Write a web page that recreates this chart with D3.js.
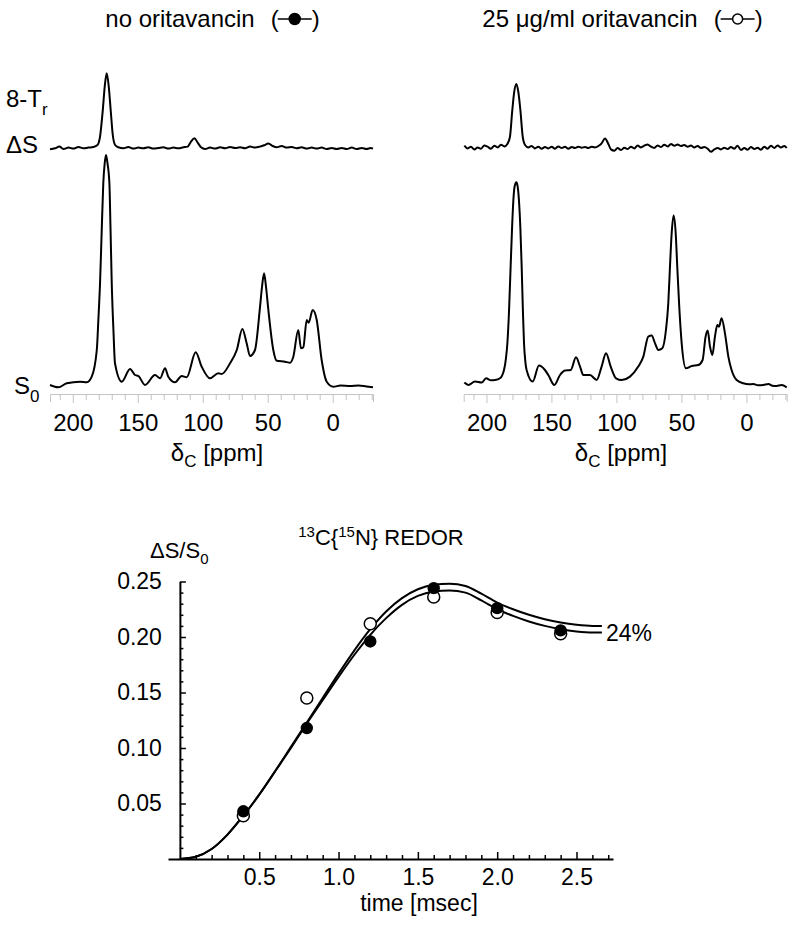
<!DOCTYPE html>
<html><head><meta charset="utf-8">
<script src="https://cdn.jsdelivr.net/npm/d3@7"></script>
<style>
body{margin:0;background:#fff}
svg text{font-family:"Liberation Sans",Arial,Helvetica,sans-serif;fill:#000}
</style>
</head><body>
<svg id="c" width="800" height="927"></svg>
<script>
// ---------------- DATA ----------------
const ppmTickLabels = [200, 150, 100, 50, 0];
const panelTitles = ["no oritavancin", "25 \u03BCg/ml oritavancin"];

// S0 spectrum, no oritavancin: [ppm, intensity]
const s0NoOri = [[217.5,0],[211.1,-2.3],[204.6,1.7],[194.4,3.3],[189.2,2.7],[185.4,8.3],[181.5,35],[180.3,65],[179.0,101.7],[177.7,155],[176.5,201.7],[175.4,222],[174.4,230],[173.3,222],[171.8,201.7],[171.0,160],[170.0,101.7],[168.7,55],[167.5,21.7],[162.3,3.3],[155.9,16],[152.1,10],[149.5,9],[144.4,0],[136.7,10],[132.8,6.7],[129.0,16.7],[126.5,8.3],[121.3,2.7],[116.2,9],[112.3,7.7],[105.4,32.7],[100.8,18.3],[94.4,6.7],[88.0,11.7],[85.4,11],[79.0,21.7],[73.8,35],[69.5,56],[66.2,41.7],[63.6,29],[59.8,35],[55.9,78.3],[54.4,98],[52.8,111.7],[51.3,98],[49.5,75],[45.7,35],[43.1,24.3],[36.7,23.3],[32.8,22.3],[30.3,28.3],[26.5,55],[24.4,36.7],[22.6,37.7],[20.0,65],[18.5,62.3],[15.4,75],[12.3,65],[8.5,25],[4.6,3.3],[-0.5,-1.7],[-6,-0.6],[-13.3,-1],[-20,-0.4],[-26,-1.5],[-31,-2.3]];

// 8-Tr Delta S spectrum, no oritavancin
const dsNoOri = [[217.5,-1],[213.6,0],[210.3,1.7],[207.2,-0.7],[203.3,0.7],[199.5,-0.3],[195.7,1.3],[191.8,0],[188.0,0.7],[184.1,1.3],[181.0,3.3],[179.0,11.7],[176.9,38],[175.4,61.7],[173.9,75],[172.3,61.7],[170.8,38],[169.2,13.3],[167.4,3.3],[164.9,1],[161.0,0],[157.2,1.3],[153.3,-0.3],[149.5,0.7],[145.7,0],[141.8,1],[138.0,-0.3],[134.1,0.3],[130.3,1],[126.4,-0.3],[122.6,0.7],[118.7,0],[114.9,1],[111.6,1.7],[109.0,6.7],[106.4,10],[103.9,5.7],[101.3,1],[98.2,-0.7],[94.4,0.7],[90.5,-0.3],[86.7,1],[82.8,0],[79.0,1.3],[75.1,0.3],[71.3,1],[67.4,0],[63.6,1.7],[59.7,0.7],[55.9,1.7],[52.8,3],[49.5,4.7],[46.2,2.3],[43.1,1],[39.2,2.3],[35.4,0.7],[31.5,1.3],[27.7,0],[23.9,1],[20.0,-0.3],[16.2,0.7],[12.3,-0.3],[8.5,0.7],[4.6,-0.7],[0.8,0.3],[-3.1,-0.7],[-6.9,0.3],[-10.8,-0.7],[-14.6,0.7],[-18.5,-0.7],[-22.3,0.3],[-26.1,-0.7],[-29.2,0.3],[-31,-0.3]];

// S0 spectrum, 25 ug/ml oritavancin
const s0Ori = [[217.0,0.7],[213.9,-1.7],[208.8,1.7],[203.7,0.7],[200.3,5],[196.5,3],[193.4,3.3],[189.6,5],[186.5,13.3],[185.0,25],[183.9,40],[182.7,70],[181.4,116.7],[180.3,155],[179.3,183],[178.3,197],[177.0,201],[176.0,197],[175.0,183],[173.9,155],[172.9,116.7],[171.9,70],[171.1,40],[170.1,22],[169.1,13.3],[164.4,1.7],[159.6,17.7],[155.0,13.3],[152.4,8.3],[147.8,-1.7],[143.4,8.3],[139.6,12.7],[135.2,13.3],[131.1,26],[128.0,16.7],[125.5,8.3],[120.3,8.3],[115.2,3.3],[111.4,16.7],[108.0,30],[104.4,16.7],[100.3,5],[96.0,3.3],[89.6,6.7],[83.2,16.7],[79.3,26.7],[75.5,46.7],[72.9,47.7],[70.3,40],[67.8,33.3],[64.7,35],[61.9,53.3],[60.1,80],[58.8,116.7],[57.5,150],[56.0,167.7],[54.4,150],[53.2,116.7],[51.6,75],[49.8,40],[46.5,15],[42.1,17.3],[37.0,18.3],[33.7,23.3],[31.4,46.7],[29.8,52.7],[28.0,36.7],[26.2,28.3],[24.2,46.7],[22.4,58.3],[21.1,56.7],[19.1,65],[16.5,50],[13.9,26.7],[11.4,13.3],[7.5,3.3],[2.4,0],[-2,-1],[-5.3,-0.7],[-9,-2],[-13.0,-1.7],[-17,-0.8],[-20,-2.5],[-23.2,-2.7],[-27,-1.8],[-31,-4]];

// 8-Tr Delta S spectrum, 25 ug/ml oritavancin
const dsOri = [[217.0,1],[214.5,-1.7],[211.9,0],[209.3,-2.7],[206.8,-0.7],[204.2,-2],[201.6,1.3],[199.1,0],[196.5,-2],[193.9,1],[191.4,-0.7],[188.8,2],[186.2,0.3],[183.9,2.7],[181.9,10],[180.1,36.7],[178.6,55],[177.0,62.7],[175.5,55],[173.9,36.7],[172.1,10],[170.3,1.7],[167.8,-0.7],[165.2,0.7],[162.7,-1.7],[160.1,0],[157.5,-2],[155.0,-0.3],[152.4,-1.7],[149.8,0],[147.3,-2],[144.7,0.3],[142.1,-1.3],[139.6,0],[137.0,-2],[134.4,-0.3],[131.9,-1.3],[129.3,0],[126.8,-1],[124.2,-0.3],[121.6,-1.3],[119.1,0],[116.5,-0.7],[113.9,0.7],[111.4,3.3],[108.8,8.3],[106.2,2.7],[104.2,-2.7],[101.6,-4],[99.1,-1.3],[96.5,-3.3],[93.9,-1],[91.4,-2.3],[88.8,0],[86.2,-1.7],[83.7,1.3],[81.1,-0.7],[78.5,1],[76.0,2.3],[73.4,0],[70.9,-1.3],[68.3,1.3],[65.7,-0.3],[63.2,2],[60.6,0.3],[58.0,2.7],[55.5,1],[52.9,2.3],[50.3,0.7],[47.8,1.7],[45.2,0],[42.7,1.3],[40.1,-0.7],[37.5,0.7],[35.0,-1.3],[32.4,-0.3],[29.8,-2],[27.3,-5],[24.7,-2.7],[22.1,-1.3],[19.6,-2.7],[17.0,-1],[14.4,-2.3],[11.9,-0.3],[9.3,-2],[6.8,1],[4.2,-3.3],[1.6,-1.3],[-0.9,-3],[-3.5,-0.3],[-6.1,-2.3],[-8.6,-1],[-11.2,-3],[-13.8,0],[-16.3,-2],[-18.9,1],[-21.5,-1.3],[-24.0,1.3],[-26.6,-0.7],[-29.2,0.7],[-31,-1.3]];

// REDOR data
const timeTickLabels = [0.5, 1.0, 1.5, 2.0, 2.5];
const ratioTickLabels = [0.05, 0.10, 0.15, 0.20, 0.25];
const redorTimes = [0.4, 0.8, 1.2, 1.6, 2.0, 2.4];
const redorNoOri = [0.043, 0.118, 0.196, 0.244, 0.226, 0.206];
const redorOri = [0.039, 0.145, 0.212, 0.236, 0.222, 0.203];
const fitTimes = [0, 0.1, 0.2, 0.3, 0.4, 0.5, 0.6, 0.7, 0.8, 0.9, 1.0, 1.1, 1.2, 1.3, 1.4, 1.5, 1.6, 1.7, 1.8, 1.9, 2.0, 2.1, 2.2, 2.3, 2.4, 2.5, 2.6, 2.66];
const fitUpper = [0, 0.002, 0.009, 0.022, 0.039, 0.058, 0.079, 0.101, 0.123, 0.145, 0.167, 0.188, 0.207, 0.223, 0.235, 0.243, 0.247, 0.248, 0.246, 0.239, 0.231, 0.225, 0.220, 0.216, 0.213, 0.211, 0.210, 0.210];
const fitLower = [0, 0.002, 0.009, 0.022, 0.039, 0.058, 0.079, 0.100, 0.122, 0.143, 0.164, 0.184, 0.202, 0.217, 0.229, 0.237, 0.241, 0.242, 0.240, 0.233, 0.225, 0.219, 0.214, 0.210, 0.207, 0.205, 0.204, 0.204];
const plateauLabel = "24%";

// ---------------- DRAW ----------------
const svg = d3.select("#c");

function sub(textSel, main, subscript, size) {
  textSel.append("tspan").text(main);
  textSel.append("tspan").attr("font-size", size).attr("dy", size * 0.45).text(subscript);
}

function titleWithLegend(cx, y, label, filled) {
  const g = svg.append("g");
  const t = g.append("text").attr("y", y).attr("font-size", 24).text(label);
  const w = t.node().getComputedTextLength();
  const total = w + 16 + 8 + 34 + 8;
  const x0 = cx - total / 2;
  t.attr("x", x0);
  const px = x0 + w + 16;
  g.append("text").attr("x", px).attr("y", y).attr("font-size", 24).text("(");
  g.append("line").attr("x1", px + 7).attr("x2", px + 41).attr("y1", y - 8).attr("y2", y - 8)
    .attr("stroke", "#000").attr("stroke-width", 1.5);
  g.append("circle").attr("cx", px + 24).attr("cy", y - 8).attr("r", filled ? 5.5 : 5)
    .attr("fill", filled ? "#000" : "#fff").attr("stroke", "#000").attr("stroke-width", 1.5);
  g.append("text").attr("x", px + 41).attr("y", y).attr("font-size", 24).text(")");
}

function spectrumPanel(cfg) {
  const x = d3.scaleLinear().domain([217.5, -31]).range(cfg.xr);
  const yS0 = d3.scaleLinear().domain([0, 100]).range([cfg.s0Base, cfg.s0Base - 100]);
  const yDS = d3.scaleLinear().domain([0, 100]).range([cfg.dsBase, cfg.dsBase - 100]);
  const lineS0 = d3.line().x(d => x(d[0])).y(d => yS0(d[1])).curve(d3.curveMonotoneX);
  const lineDS = d3.line().x(d => x(d[0])).y(d => yDS(d[1])).curve(d3.curveMonotoneX);
  const rev = a => a.slice().reverse();
  svg.append("path").attr("d", lineS0(rev(cfg.s0))).attr("fill", "none")
    .attr("stroke", "#000").attr("stroke-width", 2).attr("stroke-linejoin", "round");
  svg.append("path").attr("d", lineDS(rev(cfg.ds))).attr("fill", "none")
    .attr("stroke", "#000").attr("stroke-width", 2).attr("stroke-linejoin", "round");

  const ticks = d3.range(-30, 211, 10);
  const ax = svg.append("g").attr("transform", `translate(0,${cfg.axisY})`)
    .call(d3.axisBottom(x).tickValues(ticks).tickSizeOuter(0).tickSize(8).tickPadding(12)
      .tickFormat(d => ppmTickLabels.includes(d) ? d : ""));
  ax.select(".domain").attr("stroke", "#c4c4c4").attr("stroke-width", 1);
  ax.selectAll(".tick line").attr("stroke", "#c4c4c4").attr("stroke-width", 1)
    .attr("y2", d => d % 50 === 0 ? 9 : 6);
  ax.selectAll(".tick text").attr("font-size", 24).attr("font-family", null).attr("fill", "#000");

  const lab = svg.append("text").attr("x", cfg.labelX).attr("y", 461).attr("font-size", 24)
    .attr("text-anchor", "middle");
  lab.append("tspan").text("\u03B4");
  lab.append("tspan").attr("font-size", 17).attr("dy", 6).text("C");
  lab.append("tspan").attr("dy", -6).text(" [ppm]");

  titleWithLegend(cfg.titleX, 27, cfg.title, cfg.filled);
}

spectrumPanel({xr: [50, 373], s0Base: 385, dsBase: 148.3, s0: s0NoOri, ds: dsNoOri,
  axisY: 394, labelX: 217, titleX: 213, title: panelTitles[0], filled: true});
spectrumPanel({xr: [463.7, 786.7], s0Base: 383.3, dsBase: 146.7, s0: s0Ori, ds: dsOri,
  axisY: 394, labelX: 621, titleX: 623, title: panelTitles[1], filled: false});

// side labels
const l1 = svg.append("text").attr("x", 6).attr("y", 107).attr("font-size", 24);
sub(l1, "8-T", "r", 17);
svg.append("text").attr("x", 6).attr("y", 153).attr("font-size", 24).text("\u0394S");
const l3 = svg.append("text").attr("x", 14).attr("y", 394).attr("font-size", 24);
sub(l3, "S", "0", 17);

// ---------------- REDOR plot ----------------
const xT = d3.scaleLinear().domain([-0.075, 2.73]).range([168, 613]);
const yT = d3.scaleLinear().domain([0, 0.25]).range([859, 581.5]);

const xAx = svg.append("g").attr("transform", "translate(0,859)")
  .call(d3.axisBottom(xT).tickValues(d3.range(1, 28).map(i => i / 10)).tickSizeOuter(0)
    .tickSizeInner(-7).tickPadding(10)
    .tickFormat(d => timeTickLabels.some(v => Math.abs(v - d) < 1e-9) ? d3.format(".1f")(d) : ""));
xAx.select(".domain").attr("stroke", "#000").attr("stroke-width", 2);
xAx.selectAll(".tick line").attr("stroke", "#000").attr("stroke-width", 1.5)
  .attr("y2", d => timeTickLabels.some(v => Math.abs(v - d) < 1e-9) ? -7 : -4);
xAx.selectAll(".tick text").attr("font-size", 23).attr("font-family", null).attr("fill", "#000");

const yAx = svg.append("g").attr("transform", `translate(${xT(0)},0)`)
  .call(d3.axisLeft(yT).tickValues(d3.range(1, 26).map(i => i / 100)).tickSizeOuter(0)
    .tickSizeInner(-6).tickPadding(18)
    .tickFormat(d => ratioTickLabels.some(v => Math.abs(v - d) < 1e-9) ? d3.format(".2f")(d) : ""));
yAx.select(".domain").attr("stroke", "#000").attr("stroke-width", 2);
yAx.selectAll(".tick line").attr("stroke", "#000").attr("stroke-width", 1.5)
  .attr("x2", d => ratioTickLabels.some(v => Math.abs(v - d) < 1e-9) ? 6 : 3.5);
yAx.selectAll(".tick text").attr("font-size", 23).attr("font-family", null).attr("fill", "#000");

// fit curves
const fitLine = arr => d3.line().x((d, i) => xT(fitTimes[i])).y(d => yT(d)).curve(d3.curveMonotoneX)(arr);
[fitUpper, fitLower].forEach(a => svg.append("path").attr("d", fitLine(a)).attr("fill", "none")
  .attr("stroke", "#000").attr("stroke-width", 2));

// points: open first, then filled
svg.selectAll("circle.open").data(redorOri).enter().append("circle").attr("class", "open")
  .attr("cx", (d, i) => xT(redorTimes[i])).attr("cy", d => yT(d)).attr("r", 6)
  .attr("fill", "#fff").attr("stroke", "#000").attr("stroke-width", 1.5);
svg.selectAll("circle.filled").data(redorNoOri).enter().append("circle").attr("class", "filled")
  .attr("cx", (d, i) => xT(redorTimes[i])).attr("cy", d => yT(d)).attr("r", 6.2)
  .attr("fill", "#000");

svg.append("text").attr("x", xT(fitTimes[fitTimes.length - 1]) + 4).attr("y", 641)
  .attr("font-size", 23).text(plateauLabel);

// titles & axis labels
const tt = svg.append("text").attr("x", 381).attr("y", 545).attr("font-size", 22).attr("text-anchor", "middle");
tt.append("tspan").attr("font-size", 15).attr("dy", -8).text("13");
tt.append("tspan").attr("dy", 8).text("C{");
tt.append("tspan").attr("font-size", 15).attr("dy", -8).text("15");
tt.append("tspan").attr("dy", 8).text("N} REDOR");

const yl = svg.append("text").attr("x", 150).attr("y", 558).attr("font-size", 22);
yl.append("tspan").text("\u0394S/S");
yl.append("tspan").attr("font-size", 15).attr("dy", 6).text("0");

svg.append("text").attr("x", 419).attr("y", 911).attr("font-size", 23).attr("text-anchor", "middle")
  .text("time [msec]");
</script>
</body></html>
